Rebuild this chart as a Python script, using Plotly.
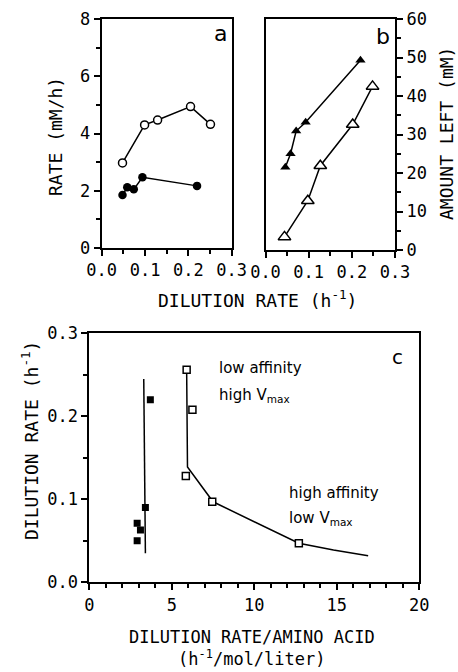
import plotly.graph_objects as go

W, H = 458, 672

# ---- Panel a: rate vs dilution rate ----
a_open_x = [0.048, 0.099, 0.129, 0.205, 0.251]
a_open_y = [2.97, 4.30, 4.47, 4.94, 4.32]
a_fill_x = [0.048, 0.059, 0.074, 0.094, 0.220]
a_fill_y = [1.85, 2.12, 2.05, 2.47, 2.17]

# ---- Panel b: amount left vs dilution rate ----
b_fill_x = [0.046, 0.058, 0.071, 0.093, 0.220]
b_fill_y = [21.5, 25.0, 30.9, 33.2, 49.3]
b_open_x = [0.044, 0.098, 0.127, 0.202, 0.248]
b_open_y = [3.4, 12.8, 21.9, 32.6, 42.5]

# ---- Panel c ----
c_fill_x = [2.9, 3.1, 2.9, 3.4, 3.7]
c_fill_y = [0.071, 0.063, 0.050, 0.090, 0.220]
c_fill_line_x = [3.3, 3.4]
c_fill_line_y = [0.245, 0.035]
c_open_x = [5.9, 6.25, 5.85, 7.45, 12.7]
c_open_y = [0.256, 0.208, 0.128, 0.097, 0.047]
c_curve_x = [5.9, 5.95, 7.5, 12.7, 14.8, 16.9]
c_curve_y = [0.256, 0.139, 0.097, 0.047, 0.039, 0.032]

MONO = "DejaVu Sans Mono"
SANS = "DejaVu Sans"
TF = dict(family=MONO, size=17, color="black")


def px(x, y):
    return x / W, 1 - y / H


def dom(x0, x1, ytop, ybot):
    return [x0 / W, x1 / W], [1 - ybot / H, 1 - ytop / H]


ax_dom_x, ax_dom_y = dom(101.7, 231.7, 19, 248)
bx_dom_x, bx_dom_y = dom(265.5, 395, 19, 250)
cx_dom_x, cx_dom_y = dom(89.3, 419.3, 333.3, 582.3)

fig = go.Figure()
LINE = dict(color="black", width=1.5)

# panel a
fig.add_trace(go.Scatter(x=a_open_x, y=a_open_y, mode="lines+markers", line=LINE,
                         marker=dict(symbol="circle", size=8, color="white", line=dict(color="black", width=1.5)),
                         xaxis="x", yaxis="y"))
fig.add_trace(go.Scatter(x=a_fill_x, y=a_fill_y, mode="lines+markers", line=LINE,
                         marker=dict(symbol="circle", size=8.5, color="black"),
                         xaxis="x", yaxis="y"))
# panel b
fig.add_trace(go.Scatter(x=b_fill_x, y=b_fill_y, mode="lines+markers", line=LINE,
                         marker=dict(symbol="triangle-up", size=9, color="black"),
                         xaxis="x2", yaxis="y2"))
fig.add_trace(go.Scatter(x=b_open_x, y=b_open_y, mode="lines+markers", line=LINE,
                         marker=dict(symbol="triangle-up", size=11, color="white", line=dict(color="black", width=1.5)),
                         xaxis="x2", yaxis="y2"))
# panel c
fig.add_trace(go.Scatter(x=c_fill_line_x, y=c_fill_line_y, mode="lines", line=LINE,
                         xaxis="x3", yaxis="y3"))
fig.add_trace(go.Scatter(x=c_curve_x, y=c_curve_y, mode="lines", line=LINE,
                         xaxis="x3", yaxis="y3"))
fig.add_trace(go.Scatter(x=c_fill_x, y=c_fill_y, mode="markers",
                         marker=dict(symbol="square", size=7, color="black"),
                         xaxis="x3", yaxis="y3"))
fig.add_trace(go.Scatter(x=c_open_x, y=c_open_y, mode="markers",
                         marker=dict(symbol="square", size=7, color="white", line=dict(color="black", width=1.5)),
                         xaxis="x3", yaxis="y3"))


def axis(**kw):
    base = dict(showgrid=False, zeroline=False, showline=True, linecolor="black", linewidth=2,
                mirror=True, ticks="outside", ticklen=6, tickwidth=1.5, tickcolor="black",
                tickfont=TF, automargin=False, fixedrange=True)
    base.update(kw)
    return base


MINOR = dict(ticks="outside", ticklen=4, tickcolor="black", tickwidth=1.5)

fig.update_layout(
    width=W, height=H, margin=dict(l=0, r=0, t=0, b=0),
    paper_bgcolor="white", plot_bgcolor="white", showlegend=False,
    xaxis=axis(domain=ax_dom_x, range=[0, 0.3], tickvals=[0, 0.1, 0.2, 0.3],
               ticktext=["0.0", "0.1", "0.2", "0.3"], anchor="y",
               minor=dict(dtick=0.05, **MINOR)),
    yaxis=axis(domain=ax_dom_y, range=[0, 8], tickvals=[0, 2, 4, 6, 8], anchor="x",
               minor=dict(dtick=1, **MINOR)),
    xaxis2=axis(domain=bx_dom_x, range=[0, 0.3], tickvals=[0, 0.1, 0.2, 0.3],
                ticktext=["0.0", "0.1", "0.2", "0.3"], anchor="y2",
                minor=dict(dtick=0.05, **MINOR)),
    yaxis2=axis(domain=bx_dom_y, range=[0, 60], tickvals=[0, 10, 20, 30, 40, 50, 60], anchor="x2",
                side="right", minor=dict(dtick=5, **MINOR)),
    xaxis3=axis(domain=cx_dom_x, range=[0, 20], tickvals=[0, 5, 10, 15, 20], anchor="y3",
                minor=dict(dtick=1, **MINOR)),
    yaxis3=axis(domain=cx_dom_y, range=[0, 0.3], tickvals=[0, 0.1, 0.2, 0.3],
                ticktext=["0.0", "0.1", "0.2", "0.3"], anchor="x3",
                minor=dict(dtick=0.05, **MINOR)),
)

ann = []


def text(t, x, y, size=18, angle=0, xanchor="center", yanchor="middle", family=MONO):
    xp, yp = px(x, y)
    ann.append(dict(text=t, x=xp, y=yp, xref="paper", yref="paper", showarrow=False,
                    textangle=angle, xanchor=xanchor, yanchor=yanchor, align="center",
                    font=dict(family=family, size=size, color="black")))


text("RATE (mM/h)", 55, 137, angle=-90)
text("AMOUNT LEFT (mM)", 447, 134, angle=-90)
text("DILUTION RATE (h<sup>-1</sup>)", 257, 299)
text("DILUTION RATE (h<sup>-1</sup>)", 30, 441, angle=-90)
text("DILUTION RATE/AMINO ACID<br>(h<sup>-1</sup>/mol/liter)", 252, 648, size=17)
text("a", 220, 33, size=22, family=SANS)
text("b", 383, 36, size=22, family=SANS)
text("c", 397, 357, size=20, family=SANS)
text("low affinity", 217, 368, size=15, xanchor="left", family=SANS)
text("high V<sub>max</sub>", 217, 395, size=15, xanchor="left", family=SANS)
text("high affinity", 287, 493, size=15, xanchor="left", family=SANS)
text("low V<sub>max</sub>", 287, 518, size=15, xanchor="left", family=SANS)

fig.update_layout(annotations=ann)
fig.write_html("out.html", config={"displayModeBar": False},
               post_script="document.body.style.margin='0px';document.body.style.overflow='hidden';")
